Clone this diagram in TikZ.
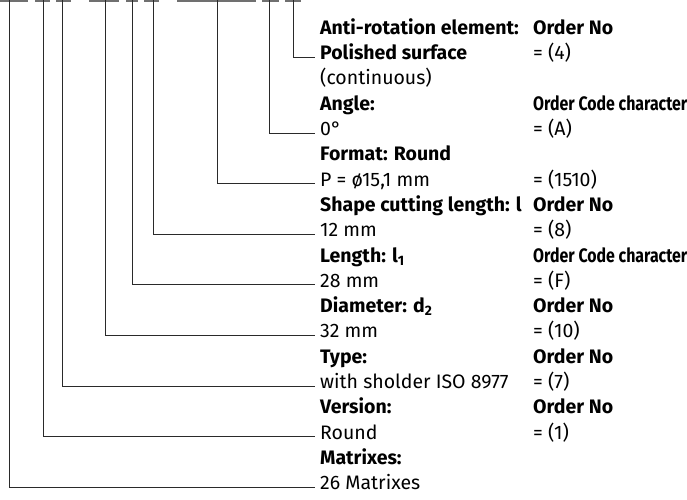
\documentclass[tikz,border=0pt]{standalone}
\usepackage{graphicx}
\usepackage{fontspec}
\setmainfont{Fira Sans}
\usetikzlibrary{calc}
\definecolor{lnblack}{HTML}{2A2A2A}
\definecolor{bargray}{HTML}{707070}

\begin{document}
\begin{tikzpicture}[
    x=1pt, y=-1pt,
    every node/.style={inner ysep=0pt, anchor=mid west,
                       font=\fontsize{19.5}{23}\selectfont},
    item/.style={inner xsep=5pt},
    col/.style={inner xsep=0pt},
    lead/.style={lnblack, line width=0.8pt},
  ]

  % ══════════════════════════════════════════════════════
  % Frame (fixes the page size)
  % ══════════════════════════════════════════════════════
  \useasboundingbox (0,0) rectangle (687,499);

  % ══════════════════════════════════════════════════════
  % Code bars along the top edge
  % ══════════════════════════════════════════════════════
  \foreach \a/\b/\v [count=\i] in {0/28/9.5, 35/50/43, 56/71/62,
      89/119/105, 126/138/132, 144/159/153, 177/256/217,
      262/279/269, 285/301/293}{
    \fill[bargray] (\a,0) rectangle (\b,2);
    \coordinate (top\i) at (\v,0);
  }

  % ══════════════════════════════════════════════════════
  % Left column: feature / value
  % ══════════════════════════════════════════════════════
  \node[item] (t0)  at (315, 31.7)  {\bfseries Anti-rotation element:};
  \node[item] (t1)  at (315, 57.0)  {\bfseries Polished surface};
  \node[item] (t2)  at (315, 82.3)  {(continuous)};
  \node[item] (t3)  at (315, 107.6) {\bfseries Angle:};
  \node[item] (t4)  at (315, 132.9) {0°};
  \node[item] (t5)  at (315, 158.2) {\bfseries Format: Round};
  \node[item] (t6)  at (315, 183.5) {P = ø15,1 mm};
  \node[item] (t7)  at (315, 208.8) {\bfseries Shape cutting length: l};
  \node[item] (t8)  at (315, 234.1) {12 mm};
  \node[item] (t9)  at (315, 259.4) {\bfseries Length: l\textsubscript{1}};
  \node[item] (t10) at (315, 284.7) {28 mm};
  \node[item] (t11) at (315, 310.0) {\bfseries Diameter: d\textsubscript{2}};
  \node[item] (t12) at (315, 335.3) {32 mm};
  \node[item] (t13) at (315, 360.6) {\bfseries Type:};
  \node[item] (t14) at (315, 385.9) {with sholder ISO 8977};
  \node[item] (t15) at (315, 411.2) {\bfseries Version:};
  \node[item] (t16) at (315, 436.5) {Round};
  \node[item] (t17) at (315, 461.8) {\bfseries Matrixes:};
  \node[item] (t18) at (315, 487.1) {26 Matrixes};

  % ══════════════════════════════════════════════════════
  % Right column: order code
  % ══════════════════════════════════════════════════════
  \node[col] (c0)  at (533, 31.7)  {\bfseries Order No};
  \node[col] (c1)  at (533, 57.0)  {= (4)};
  \node[col] (c3)  at (533, 107.6) {\bfseries\scalebox{0.815}[1]{Order Code character}};
  \node[col] (c4)  at (533, 132.9) {= (A)};
  \node[col] (c6)  at (533, 183.5) {= (1510)};
  \node[col] (c7)  at (533, 208.8) {\bfseries Order No};
  \node[col] (c8)  at (533, 234.1) {= (8)};
  \node[col] (c9)  at (533, 259.4) {\bfseries\scalebox{0.815}[1]{Order Code character}};
  \node[col] (c10) at (533, 284.7) {= (F)};
  \node[col] (c11) at (533, 310.0) {\bfseries Order No};
  \node[col] (c12) at (533, 335.3) {= (10)};
  \node[col] (c13) at (533, 360.6) {\bfseries Order No};
  \node[col] (c14) at (533, 385.9) {= (7)};
  \node[col] (c15) at (533, 411.2) {\bfseries Order No};
  \node[col] (c16) at (533, 436.5) {= (1)};

  % ══════════════════════════════════════════════════════
  % Leader lines from the bars to the values
  % ══════════════════════════════════════════════════════
  \foreach \i/\r in {9/1, 8/4, 7/6, 6/8, 5/10, 4/12, 3/14, 2/16, 1/18}{
    \draw[lead] (top\i) |- (t\r.mid west);
  }

\end{tikzpicture}
\end{document}
